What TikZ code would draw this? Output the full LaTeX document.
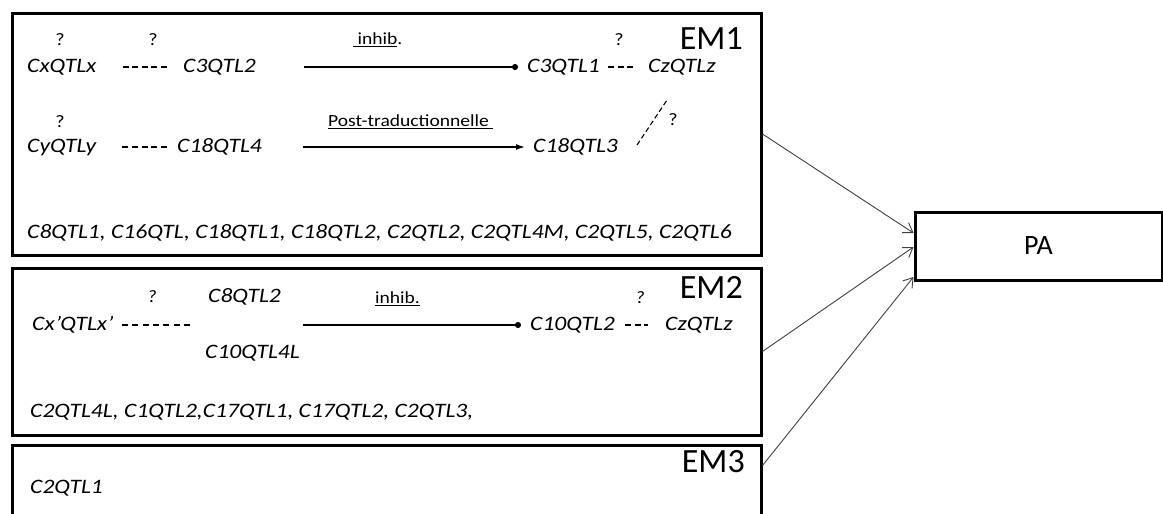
\documentclass[tikz,border=0pt]{standalone}
\usepackage{fontspec}
\setmainfont{Carlito}
\newfontfamily\stf{Carlito}[FakeStretch=1.15]
\usetikzlibrary{arrows.meta,calc}
\begin{document}
\begin{tikzpicture}[x=1pt,y=-1pt,
  embox/.style={draw, line width=3pt, rectangle, inner sep=0pt},
  lbl/.style={font=\stf\itshape\fontsize{20.5}{24}\selectfont, inner sep=0pt, anchor=west},
  qm/.style={font=\stf\fontsize{17.5}{20}\selectfont, inner sep=0pt},
  emlab/.style={font=\fontsize{34}{40}\selectfont, inner sep=0pt, anchor=east},
  ann/.style={font=\stf\fontsize{17}{20}\selectfont, inner sep=0pt, anchor=west},
  dsh/.style={line width=1.4pt, dash pattern=on 6pt off 3.6pt},
  inharrow/.style={line width=1.3pt, -{Circle[length=6pt]}},
  ptarrow/.style={line width=1.3pt, -{Latex[length=9pt,width=6pt]}},
  topa/.style={line width=0.9pt, draw=black!75, -{Straight Barb[length=9pt,width=12pt]}}
]
\fill[white] (0,0) rectangle (1163,514);
\clip (0,0) rectangle (1163,514);

% boxes
\node[embox, minimum width=749pt, minimum height=242pt] (em1) at (386.5,134) {};
\node[embox, minimum width=749pt, minimum height=167pt] (em2) at (386.5,351.5) {};
\node[embox, minimum width=749pt, minimum height=95pt] (em3) at (386.5,492.5) {};
\node[embox, minimum width=247pt, minimum height=68pt, font=\fontsize{28}{32}\selectfont] (pa) at (1038.5,246) {PA};

\node[emlab] (l1) at (743,39) {EM1};
\node[emlab] (l2) at (743,287) {EM2};
\node[emlab] (l3) at (745,462) {EM3};

% EM1 row 1
\node[qm] (q1) at (60,40) {?};
\node[qm] (q2) at (153,40) {?};
\node[qm] (q3) at (619,40) {?};
\node[lbl] (cx) at (27,67) {CxQTLx};
\node[lbl] (c3b) at (183,67) {C3QTL2};
\node[lbl] (c3a) at (527,67) {C3QTL1};
\node[lbl] (cz1) at (648,67) {CzQTLz};
\node[ann] (inh1) at (353,40) {\underline{\ inhib}.};
\draw[dsh, shorten <=26pt, shorten >=16pt] (cx.east) -- (c3b.west);
\draw[inharrow, shorten <=48pt, shorten >=9pt] (c3b.east) -- (c3a.west);
\draw[dsh, shorten <=8pt, shorten >=13pt] (c3a.east) -- (cz1.west);

% EM1 row 2
\node[qm] (q4) at (60,122) {?};
\node[qm] (q5) at (673,120) {?};
\node[lbl] (cy) at (27,147) {CyQTLy};
\node[lbl] (c18b) at (177,147) {C18QTL4};
\node[lbl] (c18a) at (533,147) {C18QTL3};
\node[ann] (pt) at (328,122) {\underline{Post-traductionnelle\ }};
\draw[dsh, shorten <=26pt, shorten >=8pt] (cy.east) -- (c18b.west);
\draw[ptarrow, shorten <=41pt, shorten >=8pt] (c18b.east) -- (c18a.west);
\coordinate (dg1) at (637,145);
\coordinate (dg2) at (667,100);
\draw[line width=1.1pt, dash pattern=on 5pt off 3pt] (dg1) -- (dg2);

% EM1 row 3
\node[lbl] (r1) at (27,233) {C8QTL1, C16QTL, C18QTL1, C18QTL2, C2QTL2, C2QTL4M, C2QTL5, C2QTL6};

% EM2
\node[qm] (q6) at (152,297) {\itshape ?};
\node[qm] (q7) at (640,298) {\itshape ?};
\node[lbl] (c8) at (208,297) {C8QTL2};
\node[lbl] (cxp) at (32,325) {Cx’QTLx’};
\node[lbl] (c10l) at (205,353) {C10QTL4L};
\node[lbl] (c10) at (530,325) {C10QTL2};
\node[lbl] (cz2) at (665,325) {CzQTLz};
\node[ann] (inh2) at (375,299) {\underline{inhib.}};
\coordinate (in2) at (303,325);
\draw[dsh, dash pattern=on 6pt off 4.4pt, shorten <=8pt, shorten >=16pt] (cxp.east) -- (c8.west |- cxp.east);
\draw[inharrow, shorten >=9pt] (in2) -- (c10.west);
\draw[dsh, shorten <=10pt, shorten >=17pt] (c10.east) -- (cz2.west);
\node[lbl] (r2) at (30,412) {C2QTL4L, C1QTL2,C17QTL1, C17QTL2, C2QTL3,};

% EM3
\node[lbl] (r3) at (30,488) {C2QTL1};

% arrows to PA
\coordinate (e3) at ($(em3.north east)+(0,22)$);
\draw[topa] (em1.east) -- ($(pa.west)+(0,-13)$);
\draw[topa] (em2.east) -- ($(pa.west)+(0,1)$);
\draw[topa] (e3) -- ($(pa.west)+(0,31)$);
\end{tikzpicture}
\end{document}
